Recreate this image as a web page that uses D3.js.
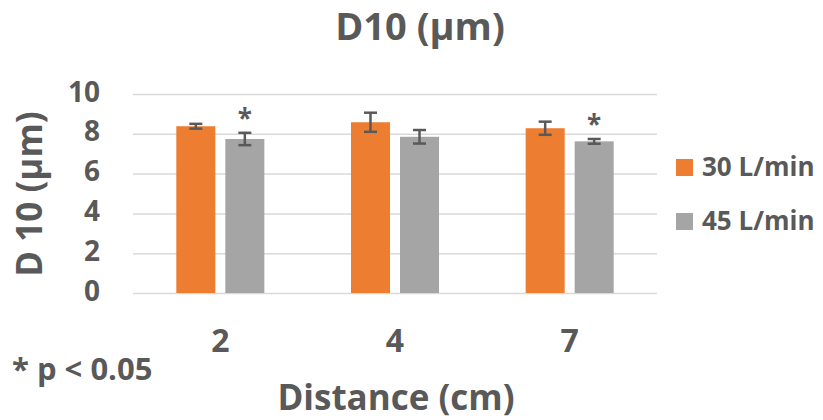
<!DOCTYPE html>
<html>
<head>
<meta charset="utf-8">
<script src="https://cdn.jsdelivr.net/npm/d3@7"></script>
<style>
  body { margin: 0; background: #fff; }
  text { font-family: 'Open Sans', sans-serif; font-weight: 700; fill: #595959; }
</style>
</head>
<body>
<div id="chart"></div>
<script>
var categories = ['2', '4', '7'];
var seriesNames = ['30 L/min', '45 L/min'];
var values30 = [8.38, 8.58, 8.28];
var errors30 = [0.12, 0.48, 0.33];
var values45 = [7.74, 7.85, 7.62];
var errors45 = [0.31, 0.34, 0.12];
var significant = [true, false, true];
var yTicks = [0, 2, 4, 6, 8, 10];

var colors = ['#ED7D31', '#A5A5A5'];
var width = 823, height = 420;
var plot = {left: 133, right: 657, top: 94, bottom: 293};

var svg = d3.select('#chart').append('svg')
  .attr('width', width)
  .attr('height', height);

var x0 = d3.scaleBand().domain(categories)
  .range([plot.left, plot.right])
  .paddingInner(0.496).paddingOuter(0.248);
var x1 = d3.scaleBand().domain(seriesNames)
  .range([0, x0.bandwidth()])
  .paddingInner(0.204);
var y = d3.scaleLinear().domain([0, 10]).range([plot.bottom, plot.top]);
var color = d3.scaleOrdinal().domain(seriesNames).range(colors);

// gridlines + y labels
var yAxis = svg.append('g')
  .attr('transform', 'translate(' + plot.left + ',0)')
  .call(d3.axisLeft(y).tickValues(yTicks).tickSize(-(plot.right - plot.left)).tickPadding(33));
yAxis.select('.domain').remove();
yAxis.selectAll('line').attr('stroke', '#d9d9d9').attr('stroke-width', 1.5);
yAxis.selectAll('text').style('font-size', '28px').attr('dy', '0.25em');

// x labels
var xAxis = svg.append('g')
  .attr('transform', 'translate(0,' + plot.bottom + ')')
  .call(d3.axisBottom(x0).tickSize(0).tickPadding(36));
xAxis.select('.domain').remove();
xAxis.selectAll('text').style('font-size', '32px');

// build rows
var rows = [];
categories.forEach(function(c, i) {
  rows.push({cat: c, series: seriesNames[0], value: values30[i], err: errors30[i], star: false});
  rows.push({cat: c, series: seriesNames[1], value: values45[i], err: errors45[i], star: significant[i]});
});

var marks = svg.append('g');

marks.selectAll('rect')
  .data(rows)
  .enter()
  .append('rect')
  .attr('x', (d) => x0(d.cat) + x1(d.series))
  .attr('y', (d) => y(d.value))
  .attr('width', x1.bandwidth())
  .attr('height', (d) => y(0) - y(d.value))
  .attr('fill', (d) => color(d.series));

// error bars
var errG = marks.selectAll('g.err')
  .data(rows)
  .enter()
  .append('g')
  .attr('class', 'err')
  .attr('stroke', '#595959')
  .attr('stroke-width', 2.5);

var cx = (d) => x0(d.cat) + x1(d.series) + x1.bandwidth() / 2;

errG.append('line')
  .attr('x1', cx).attr('x2', cx)
  .attr('y1', (d) => y(d.value + d.err))
  .attr('y2', (d) => y(d.value - d.err));
errG.append('line')
  .attr('x1', (d) => cx(d) - 6.5).attr('x2', (d) => cx(d) + 6.5)
  .attr('y1', (d) => y(d.value + d.err))
  .attr('y2', (d) => y(d.value + d.err));
errG.append('line')
  .attr('x1', (d) => cx(d) - 6.5).attr('x2', (d) => cx(d) + 6.5)
  .attr('y1', (d) => y(d.value - d.err))
  .attr('y2', (d) => y(d.value - d.err));

// significance stars
marks.selectAll('text.star')
  .data(rows.filter((d) => d.star))
  .enter()
  .append('text')
  .attr('class', 'star')
  .attr('text-anchor', 'middle')
  .attr('x', cx)
  .attr('y', (d) => y(d.value + d.err) - 5)
  .style('font-size', '26px')
  .text('*');

// title
svg.append('text')
  .attr('x', 420).attr('y', 40)
  .attr('text-anchor', 'middle')
  .style('font-size', '38px')
  .text('D10 (µm)');

// axis titles
svg.append('text')
  .attr('transform', 'translate(42,194) rotate(-90)')
  .attr('text-anchor', 'middle')
  .style('font-size', '35px')
  .text('D 10 (µm)');

svg.append('text')
  .attr('x', 396).attr('y', 410)
  .attr('text-anchor', 'middle')
  .style('font-size', '35px')
  .text('Distance (cm)');

svg.append('text')
  .attr('x', 12).attr('y', 380)
  .style('font-size', '31px')
  .text('* p < 0.05');

// legend
var legend = svg.append('g')
  .selectAll('g')
  .data(seriesNames)
  .enter()
  .append('g')
  .attr('transform', (d, i) => 'translate(676,' + (159 + i * 54) + ')');
legend.append('rect')
  .attr('width', 17).attr('height', 17)
  .attr('fill', (d) => color(d));
legend.append('text')
  .attr('x', 26).attr('y', 17)
  .style('font-size', '26px')
  .text((d) => d);
</script>
</body>
</html>
